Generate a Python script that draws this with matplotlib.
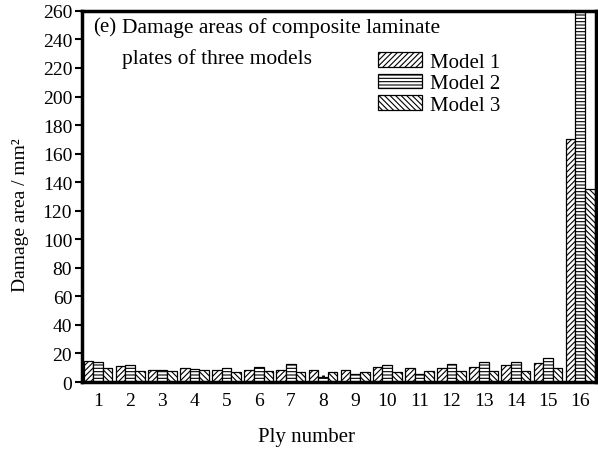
import numpy as np
import matplotlib.pyplot as plt

plt.rcParams['font.family'] = ['Liberation Serif', 'DejaVu Serif']
plt.rcParams['hatch.linewidth'] = 0.8

plies = np.arange(1, 17)
model1 = [15, 11, 8.4, 9.6, 8.4, 8.4, 8.4, 8.4, 8.4, 10.7, 9.8, 9.8, 10.7, 12.1, 13.5, 170]
model2 = [13.8, 12, 8.4, 9, 9.6, 10.5, 12.8, 3.5, 5.6, 12.1, 5.6, 12.8, 13.8, 13.8, 16.6, 290]
model3 = [9.6, 7.5, 7.7, 8.4, 6.8, 7.7, 7, 7, 6.8, 7, 7.5, 7.5, 7.5, 7.5, 9.6, 135]
labels = ['Model 1', 'Model 2', 'Model 3']
hatches = ['//////', '-----', '\\\\\\\\\\\\']

fig = plt.figure(figsize=(5.98, 4.56), dpi=100)
ax = fig.add_axes([0.137, 0.160, 0.860, 0.814])

w = 0.3
for k, (vals, lab, h) in enumerate(zip([model1, model2, model3], labels, hatches)):
    ax.bar(plies + (k - 1) * w, vals, width=w, facecolor='white', edgecolor='black',
           linewidth=0.9, hatch=h, label=lab, zorder=2)

ax.set_xlim(0.5, 16.5)
ax.set_ylim(0, 260)
ax.set_yticks(np.arange(0, 261, 20))
ax.set_xticks(plies)
ax.tick_params(axis='y', direction='out', length=5, width=1.5, labelsize=14, pad=2)
ax.tick_params(axis='x', direction='in', length=5, width=2, labelsize=14, pad=7)
for s in ax.spines.values():
    s.set_linewidth(2.5)
    s.set_zorder(5)

ax.set_xlabel('Ply number', fontsize=15)
ax.xaxis.set_label_coords(0.436, -0.12)
ax.set_ylabel('Damage area / mm²', fontsize=14)
ax.yaxis.set_label_coords(-0.102, 0.453)

ax.text(0.021, 0.957, '(e)', transform=ax.transAxes, fontsize=15, va='center', ha='left')
ax.text(0.078, 0.957, 'Damage areas of composite laminate', transform=ax.transAxes,
        fontsize=15.5, va='center', ha='left')
ax.text(0.078, 0.874, 'plates of three models', transform=ax.transAxes,
        fontsize=15.5, va='center', ha='left')

ax.legend(loc='upper left', bbox_to_anchor=(0.576, 0.889), frameon=False, fontsize=15,
          handlelength=2.1, handleheight=0.7, handletextpad=0.4, labelspacing=0.1,
          borderaxespad=0, borderpad=0)

fig.savefig('out.png', dpi=100)
